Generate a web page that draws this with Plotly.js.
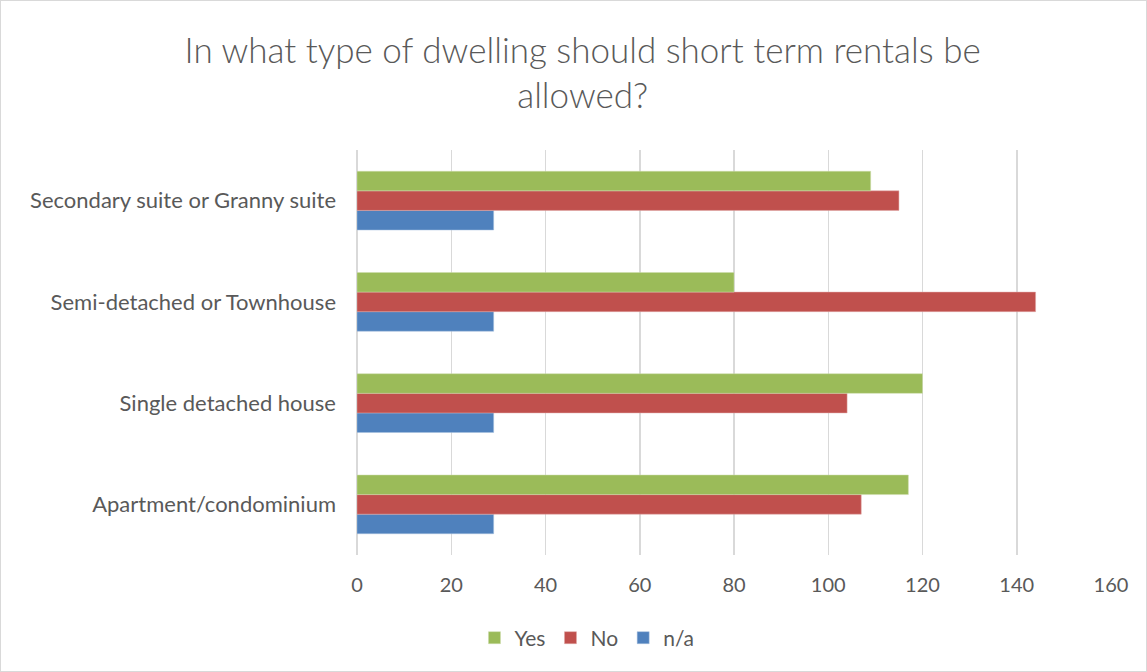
<!DOCTYPE html>
<html>
<head>
<meta charset="utf-8">
<script src="https://cdn.plot.ly/plotly-3.0.1.min.js"></script>
<style>
html,body{margin:0;padding:0;background:#fff;}
#chart{width:1147px;height:672px;box-sizing:border-box;border:1px solid #d9d9d9;}
</style>
</head>
<body>
<div id="chart"></div>
<script>
const categories = ["Apartment/condominium", "Single detached house", "Semi-detached or Townhouse", "Secondary suite or Granny suite"];
const yesValues = [117, 120, 80, 109];
const noValues = [107, 104, 144, 115];
const naValues = [29, 29, 29, 29];
const xTicks = [0, 20, 40, 60, 80, 100, 120, 140, 160];

const font = "Lato, 'Open Sans', sans-serif";
const textColor = "#595959";

const traces = [
  {type: "bar", orientation: "h", name: "n/a", y: categories, x: naValues,
   marker: {color: "#4f81bd", line: {color: "#a7c0de", width: 0.5}}},
  {type: "bar", orientation: "h", name: "No", y: categories, x: noValues,
   marker: {color: "#c0504d", line: {color: "#e0a8a6", width: 0.5}}},
  {type: "bar", orientation: "h", name: "Yes", y: categories, x: yesValues,
   marker: {color: "#9bbb59", line: {color: "#cddcac", width: 0.5}}}
];

const layout = {
  width: 1145, height: 670,
  paper_bgcolor: "#ffffff", plot_bgcolor: "#ffffff",
  font: {family: font, color: textColor, size: 20},
  title: {text: "In what type of dwelling should short term rentals be<br>allowed?",
          font: {family: font, size: 35, color: textColor, weight: 300},
          x: 0.508, xanchor: "center", y: 0.908, yanchor: "middle", yref: "container"},
  margin: {l: 356, r: 35, t: 149, b: 116},
  barmode: "group",
  bargap: 0.42,
  bargroupgap: 0,
  xaxis: {range: [0, 160], tickvals: xTicks, showgrid: true, gridcolor: "#d9d9d9", gridwidth: 1.5,
          zeroline: true, zerolinecolor: "#d9d9d9", zerolinewidth: 1.5, showline: false,
          ticks: "", ticklabelstandoff: 16, tickfont: {size: 20, color: textColor}, fixedrange: true},
  yaxis: {type: "category", showgrid: false, zeroline: false, showline: false, ticks: "",
          ticklabelstandoff: 20, tickfont: {size: 22, color: textColor}, automargin: false},
  legend: {orientation: "h", x: 0.305, xanchor: "center", y: -0.205, yanchor: "middle",
           traceorder: "reversed", font: {size: 21, color: textColor}, itemwidth: 30},
  showlegend: true
};

Plotly.newPlot("chart", traces, layout, {displayModeBar: false, staticPlot: true});
</script>
</body>
</html>
